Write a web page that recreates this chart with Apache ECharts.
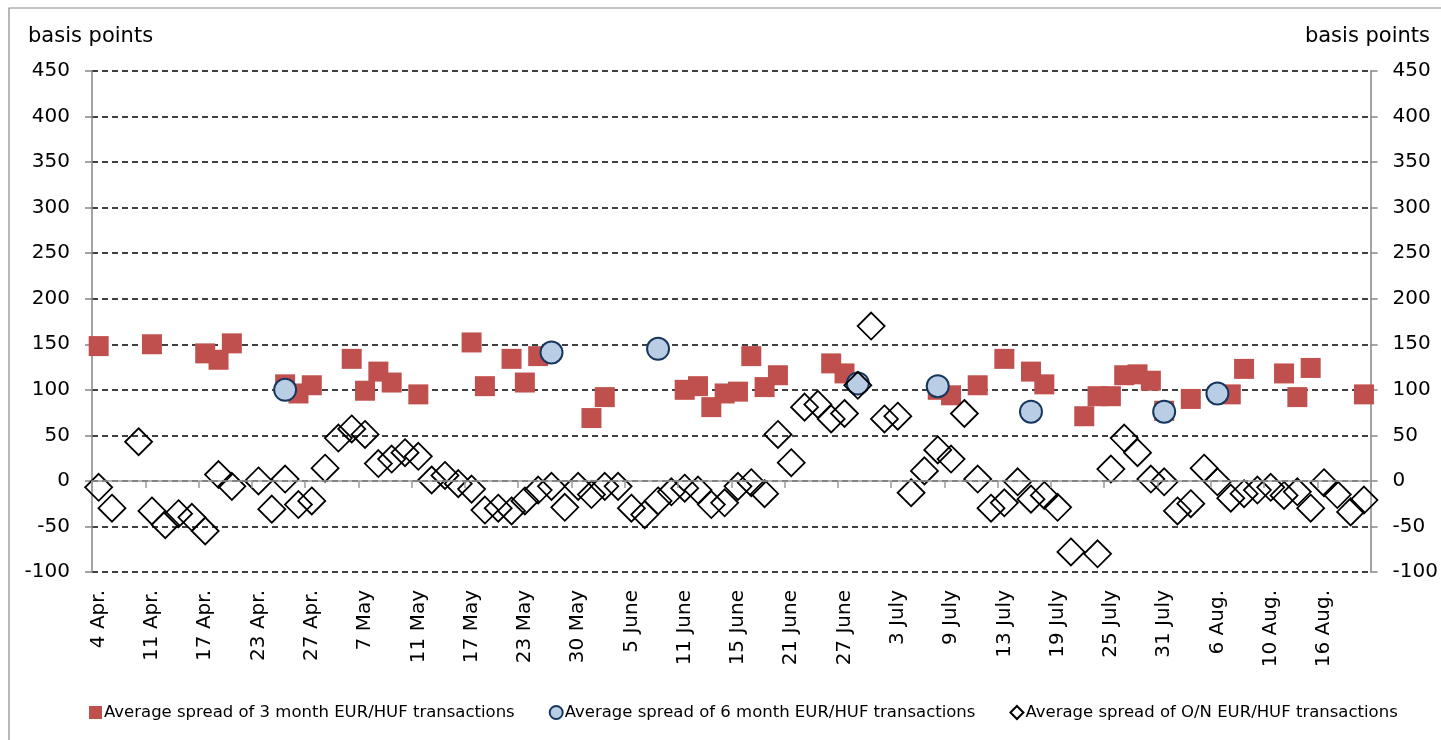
<!DOCTYPE html>
<html>
<head>
<meta charset="utf-8">
<script src="https://cdn.jsdelivr.net/npm/echarts@6/dist/echarts.min.js"></script>
<style>
html,body{margin:0;padding:0;background:#fff;}
#chart{width:1441px;height:740px;}
</style>
</head>
<body>
<div id="chart"></div>
<script>
const categories = [
 '4 Apr.','5 Apr.','6 Apr.','10 Apr.','11 Apr.','12 Apr.','13 Apr.','16 Apr.',
 '17 Apr.','18 Apr.','19 Apr.','20 Apr.','23 Apr.','24 Apr.','25 Apr.','26 Apr.',
 '27 Apr.','2 May','3 May','4 May','7 May','8 May','9 May','10 May',
 '11 May','14 May','15 May','16 May','17 May','18 May','21 May','22 May',
 '23 May','24 May','25 May','29 May','30 May','31 May','1 June','4 June',
 '5 June','6 June','7 June','8 June','11 June','12 June','13 June','14 June',
 '15 June','18 June','19 June','20 June','21 June','22 June','25 June','26 June',
 '27 June','28 June','29 June','2 July','3 July','4 July','5 July','6 July',
 '9 July','10 July','11 July','12 July','13 July','16 July','17 July','18 July',
 '19 July','20 July','23 July','24 July','25 July','26 July','27 July','30 July',
 '31 July','1 Aug.','2 Aug.','3 Aug.','6 Aug.','7 Aug.','8 Aug.','9 Aug.',
 '10 Aug.','13 Aug.','14 Aug.','15 Aug.','16 Aug.','17 Aug.','21 Aug.','22 Aug.'
];

const spread3m = [
 148,null,null,null,150,null,null,null,
 140,133,151,null,null,null,106,96,
 105,null,null,134,99,120,108,null,
 95,null,null,null,152,104,null,134,
 108,137,null,null,null,69,92,null,
 null,null,null,null,100,104,81,96,
 98,137,103,116,null,null,null,129,
 118,null,null,null,null,null,null,100,
 94,null,105,null,134,null,120,106,
 null,null,71,93,93,116,117,110,
 77,null,90,null,null,95,123,null,
 null,118,92,124,null,null,null,95
];

const spread6m = [
 null,null,null,null,null,null,null,null,
 null,null,null,null,null,null,100,null,
 null,null,null,null,null,null,null,null,
 null,null,null,null,null,null,null,null,
 null,null,141,null,null,null,null,null,
 null,null,145,null,null,null,null,null,
 null,null,null,null,null,null,null,null,
 null,107,null,null,null,null,null,104,
 null,null,null,null,null,null,76,null,
 null,null,null,null,null,null,null,null,
 76,null,null,null,96,null,null,null,
 null,null,null,null,null,null,null,null
];

const spreadON = [
 -7,-30,null,43,-33,-48,-36,-40,
 -55,7,-6,null,0,-31,2,-26,
 -22,14,47,57,51,19,24,31,
 27,1,6,-3,-9,-32,-30,-33,
 -22,-10,-6,-29,-6,-15,-6,-6,
 -30,-37,-22,-12,-8,-10,-26,-24,
 -6,-2,-14,51,20,81,84,68,
 74,105,170,68,71,-13,11,34,
 24,74,2,-30,-24,-1,-20,-16,
 -29,-78,null,-80,13,47,31,2,
 -1,-33,-25,14,-1,-19,-14,-10,
 -7,-16,-12,-30,-2,-15,-34,-21
];

const seriesNames = [
 'Average spread of 3 month EUR/HUF transactions',
 'Average spread of 6 month EUR/HUF transactions',
 'Average spread of O/N EUR/HUF transactions'
];
const axisTitle = 'basis points';

const FONT = 'DejaVu Sans';
const chart = echarts.init(document.getElementById('chart'), null, {renderer:'canvas'});

const yAxisBase = {
  type:'value', min:-100, max:450, interval:50,
  axisLine:{show:true, lineStyle:{color:'#868686', width:1.5}},
  axisTick:{show:true, length:7, lineStyle:{color:'#868686', width:1.5}},
  axisLabel:{color:'#000', fontFamily:FONT, fontSize:20, margin:22},
  splitLine:{show:false}
};

chart.setOption({
  animation:false,
  backgroundColor:'#fff',
  textStyle:{fontFamily:FONT},
  grid:{left:92, right:68, top:71, bottom:168, containLabel:false},
  graphic:[
    {type:'rect', shape:{x:9, y:8, width:1440, height:740}, style:{fill:'none', stroke:'#8a8a8a', lineWidth:1.2}, silent:true, z:-1},
    {type:'text', left:28, top:26, style:{text:axisTitle, font:'21px "DejaVu Sans"', fill:'#000'}},
    {type:'text', right:11, top:26, style:{text:axisTitle, font:'21px "DejaVu Sans"', fill:'#000'}}
  ],
  legend:{
    left:84, top:699, itemGap:34, itemWidth:13, itemHeight:13,
    textStyle:{fontFamily:FONT, fontSize:16.5, color:'#000', padding:[0,0,0,-3]},
    data:[
      {name:seriesNames[0], icon:'rect'},
      {name:seriesNames[1], icon:'circle'},
      {name:seriesNames[2], icon:'diamond'}
    ]
  },
  xAxis:[
    {
      type:'category', data:categories, boundaryGap:true,
      axisLine:{show:true, onZero:true, lineStyle:{color:'#9a9a9a', width:1.5}},
      axisTick:{show:true, interval:3, length:7, lineStyle:{color:'#9a9a9a', width:1.5}},
      axisLabel:{show:false},
      splitLine:{show:false}, z:5
    },
    {
      type:'category', data:categories, boundaryGap:true, position:'bottom',
      axisLine:{show:false, onZero:false},
      axisTick:{show:false},
      axisLabel:{show:true, interval:3, rotate:90, margin:18, color:'#000', fontFamily:FONT, fontSize:20},
      splitLine:{show:false}
    }
  ],
  yAxis:[
    Object.assign({}, yAxisBase, {
      position:'left',
      splitLine:{show:true, lineStyle:{color:'#000', type:[6,4], width:1.5}}
    }),
    Object.assign({}, yAxisBase, {position:'right'})
  ],
  series:[
    {
      name:seriesNames[0], type:'scatter', xAxisIndex:0, yAxisIndex:0,
      symbol:'rect', symbolSize:20, data:spread3m,
      itemStyle:{color:'#C0504D', opacity:1}, z:2
    },
    {
      name:seriesNames[1], type:'scatter', xAxisIndex:0, yAxisIndex:0,
      symbol:'circle', symbolSize:22, data:spread6m,
      itemStyle:{color:'#B9CDE5', borderColor:'#17375E', borderWidth:2, opacity:1}, z:3
    },
    {
      name:seriesNames[2], type:'scatter', xAxisIndex:0, yAxisIndex:0,
      symbol:'diamond', symbolSize:27, data:spreadON,
      itemStyle:{color:'rgba(255,255,255,0)', borderColor:'#000', borderWidth:1.8, opacity:1}, z:4
    }
  ]
});
</script>
</body>
</html>
